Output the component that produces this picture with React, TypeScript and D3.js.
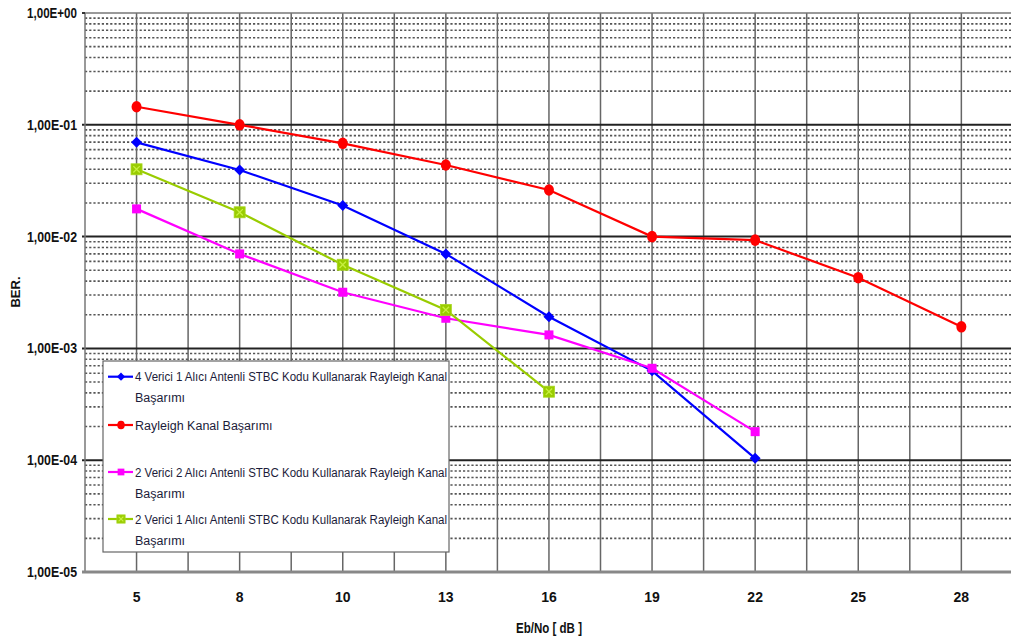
import React from "react";
import * as d3 from "d3";

const categories = ["5", "8", "10", "13", "16", "19", "22", "25", "28"];
const yTickLabels = ["1,00E+00", "1,00E-01", "1,00E-02", "1,00E-03", "1,00E-04", "1,00E-05"];
const yTickValues = [1, 1e-1, 1e-2, 1e-3, 1e-4, 1e-5];

const rayleigh = [0.145, 0.1, 0.0683, 0.0437, 0.0261, 0.01, 0.0093, 0.00429, 0.00156];
const stbc4x1 = [0.0697, 0.0394, 0.019, 0.007, 0.00192, 0.00063, 0.000104];
const stbc2x2 = [0.0177, 0.007, 0.00318, 0.00186, 0.00132, 0.000664, 0.00018];
const stbc2x1 = [0.04, 0.0165, 0.0056, 0.00221, 0.00041];

const legendLabels = [
  ["4 Verici 1 Alıcı Antenli STBC Kodu Kullanarak Rayleigh Kanal", "Başarımı"],
  ["Rayleigh Kanal Başarımı"],
  ["2 Verici 2 Alıcı Antenli STBC Kodu Kullanarak Rayleigh Kanal", "Başarımı"],
  ["2 Verici 1 Alıcı Antenli STBC Kodu Kullanarak Rayleigh Kanal", "Başarımı"],
];

type Marker = "diamond" | "circle" | "square" | "xsquare";
interface Series {
  values: number[];
  color: string;
  marker: Marker;
}

const seriesList: Series[] = [
  { values: stbc4x1, color: "#0000ff", marker: "diamond" },
  { values: rayleigh, color: "#ff0000", marker: "circle" },
  { values: stbc2x2, color: "#ff00ff", marker: "square" },
  { values: stbc2x1, color: "#99cc00", marker: "xsquare" },
];

const W = 1011;
const H = 638;
const left = 85;
const top = 13;
const bottom = 572;
const catW = 103.1;

const x = d3.scaleBand<string>().domain(categories).range([left, left + catW * categories.length]);
const y = d3.scaleLog().domain([1e-5, 1]).range([bottom, top]);
const cx = (c: string) => (x(c) as number) + x.bandwidth() / 2;

function MarkerShape({ m, px, py, color, k = 1 }: { m: Marker; px: number; py: number; color: string; k?: number }) {
  if (m === "diamond") {
    const r = 5.5 * k;
    return <path d={`M${px},${py - r}L${px + r},${py}L${px},${py + r}L${px - r},${py}Z`} fill={color} />;
  }
  if (m === "circle") {
    return <ellipse cx={px} cy={py} rx={5 * k} ry={5.8 * k} fill={color} />;
  }
  if (m === "square") {
    const s = 9 * k;
    return <rect x={px - s / 2} y={py - s / 2} width={s} height={s} fill={color} />;
  }
  const s = 11 * k;
  const a = 3.2 * k;
  return (
    <g>
      <rect x={px - s / 2} y={py - s / 2} width={s} height={s} fill={color} stroke="#a8d820" strokeWidth={0.8} />
      <path d={`M${px - a},${py - a}L${px + a},${py + a}M${px + a},${py - a}L${px - a},${py + a}`} stroke="#c8f040" strokeWidth={1.3} />
    </g>
  );
}

export default function App() {
  const minor: number[] = [];
  for (let e = -5; e < 0; e++) for (let k = 2; k <= 9; k++) minor.push(k * Math.pow(10, e));
  const vlines: number[] = [];
  categories.forEach((c) => {
    vlines.push(x(c) as number);
    vlines.push(cx(c));
  });
  const line = d3
    .line<number>()
    .x((_, i) => cx(categories[i]))
    .y((v) => y(v));

  const legX = 103;
  const legY = 361;
  const legRows = [376.7, 425, 472, 519];

  return (
    <svg width={W} height={H} style={{ position: "absolute", left: 0, top: 0, background: "#fff" }}>
      <rect x={0} y={0} width={W} height={H} fill="#fff" />
      {minor.map((v, i) => (
        <line key={"mn" + i} x1={left} x2={W} y1={y(v)} y2={y(v)} stroke="#555" strokeWidth={1.6} strokeDasharray="2.2,2" />
      ))}
      {vlines.slice(1).map((vx, i) => (
        <line key={"v" + i} x1={vx} x2={vx} y1={top} y2={bottom} stroke="#666" strokeWidth={1.5} />
      ))}
      {yTickValues.slice(1, 5).map((v, i) => (
        <line key={"mj" + i} x1={left - 3} x2={W} y1={y(v)} y2={y(v)} stroke="#222" strokeWidth={2} />
      ))}
      <line x1={left} x2={W} y1={top} y2={top} stroke="#777" strokeWidth={1.5} />
      <line x1={left} x2={left} y1={top} y2={bottom} stroke="#777" strokeWidth={1.5} />
      <line x1={left - 3} x2={left} y1={top} y2={top} stroke="#333" strokeWidth={2} />
      <line x1={left - 3} x2={W} y1={bottom} y2={bottom} stroke="#888" strokeWidth={3} />

      {seriesList.map((s, si) => (
        <g key={"s" + si}>
          <path d={line(s.values) || ""} fill="none" stroke={s.color} strokeWidth={2.2} />
          {s.values.map((v, i) => (
            <MarkerShape key={i} m={s.marker} px={cx(categories[i])} py={y(v)} color={s.color} />
          ))}
        </g>
      ))}

      <rect x={legX} y={legY} width={346} height={191} fill="#fff" stroke="#666" strokeWidth={1.2} />
      {seriesList.map((s, si) => (
        <g key={"l" + si}>
          <line x1={108} x2={133} y1={legRows[si]} y2={legRows[si]} stroke={s.color} strokeWidth={2.2} />
          <MarkerShape m={s.marker} px={121} py={legRows[si]} color={s.color} k={0.75} />
          {legendLabels[si].map((t, ti) => (
            <text
              key={ti}
              x={135}
              y={legRows[si] + 4.5 + ti * 21}
              fontFamily="Liberation Sans, Arial, sans-serif"
              fontSize={12.5}
              fill="#1c1c3a"
              textLength={ti === 0 && t.length > 30 ? 312 : undefined}
              lengthAdjust="spacingAndGlyphs"
            >
              {t}
            </text>
          ))}
        </g>
      ))}

      {yTickValues.map((v, i) => (
        <text
          key={"yt" + i}
          x={77}
          y={y(v) + 5}
          textAnchor="end"
          fontFamily="Liberation Sans, Arial, sans-serif"
          fontWeight="bold"
          fontSize={14}
          fill="#111"
          textLength={50}
          lengthAdjust="spacingAndGlyphs"
        >
          {yTickLabels[i]}
        </text>
      ))}
      {categories.map((c) => (
        <text
          key={"xt" + c}
          x={cx(c)}
          y={602}
          textAnchor="middle"
          fontFamily="Liberation Sans, Arial, sans-serif"
          fontWeight="bold"
          fontSize={14}
          fill="#111"
        >
          {c}
        </text>
      ))}
      <text
        x={549}
        y={633}
        textAnchor="middle"
        fontFamily="Liberation Sans, Arial, sans-serif"
        fontWeight="bold"
        fontSize={14}
        fill="#111"
        textLength={66}
        lengthAdjust="spacingAndGlyphs"
      >
        Eb/No [ dB ]
      </text>
      <text
        transform="translate(20,292) rotate(-90)"
        textAnchor="middle"
        fontFamily="Liberation Sans, Arial, sans-serif"
        fontWeight="bold"
        fontSize={13}
        fill="#111"
      >
        BER.
      </text>
    </svg>
  );
}
